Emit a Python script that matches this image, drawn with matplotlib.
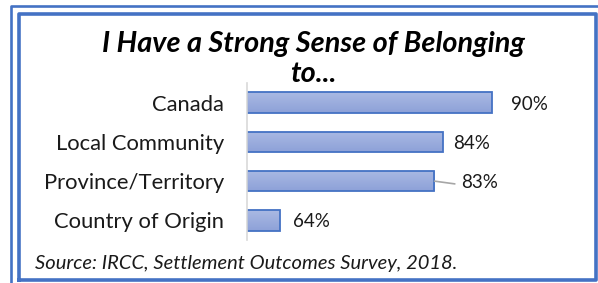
import numpy as np
import matplotlib.pyplot as plt
from matplotlib.lines import Line2D
from matplotlib.colors import LinearSegmentedColormap

# data
categories = ['Canada', 'Local Community', 'Province/Territory', 'Country of Origin']
values = [90, 84, 83, 64]
labels = ['90%', '84%', '83%', '64%']

W, H = 598, 283
fig = plt.figure(figsize=(W / 100, H / 100), dpi=100)
plt.rcParams['font.family'] = ['Lato', 'DejaVu Sans']


def px(x, y):
    # pixel coords (top-left origin) -> figure fraction
    return x / W, 1 - y / H


def fig_line(xs, ys, lw, color='#4472c4'):
    fx = [x / W for x in xs]
    fy = [1 - y / H for y in ys]
    fig.add_artist(Line2D(fx, fy, lw=lw, color=color, solid_capstyle='projecting'))


# double border
fig_line([10.5, 10.5, 605], [290, 6, 6], 1.9)
fig_line([19, 19, 595.5, 595.5, 19], [279.5, 13.5, 13.5, 279.5, 279.5], 2.6)

ax = fig.add_axes([247 / W, (H - 240) / H, 326 / W, 157 / H])
y = np.arange(len(categories))
bars = ax.barh(y, [v - 60 for v in values], left=60, height=0.52,
               color='#9cadde', edgecolor='#4472c4', linewidth=1.3)

# gradient fill on each bar
grad = np.linspace(0, 1, 50).reshape(-1, 1)
cmap = LinearSegmentedColormap.from_list('g', ['#aab9e3', '#8da1d8'])
for b in bars:
    x0, y0 = b.get_x(), b.get_y()
    im = ax.imshow(grad, cmap=cmap, aspect='auto',
                   extent=[x0, x0 + b.get_width(), y0 + b.get_height(), y0], zorder=1.5)
    im.set_clip_path(b)
    b.set_facecolor('none')
    b.set_zorder(2)

ax.set_xlim(60, 100)
ax.set_ylim(3.5, -0.5)
ax.set_yticks(y)
ax.set_yticklabels(categories, fontsize=15.8, color='#1a1a1a')
ax.tick_params(axis='y', length=0, pad=16.5)
ax.set_xticks([])
for s in ['top', 'right', 'bottom']:
    ax.spines[s].set_visible(False)
ax.spines['left'].set_color('#d9d9d9')
ax.spines['left'].set_linewidth(1.2)
ax.set_zorder(3)
ax.patch.set_alpha(0)

# value labels (offset in px)
offsets = [20, 11, 27, 13]
for yi, v, lab, off in zip(y, values, labels, offsets):
    ax.annotate(lab, (v, yi), xytext=(off * 0.72, -1), textcoords='offset points',
                va='center', ha='left', fontsize=13.5, color='#1a1a1a')
# leader line for 83%
ax.annotate('', (83, 2), xytext=(19 * 0.72 + 1, -2), textcoords='offset points',
            arrowprops=dict(arrowstyle='-', color='#a6a6a6', lw=1.2, shrinkA=0, shrinkB=0))

fig.text(*px(313, 44), 'I Have a Strong Sense of Belonging', ha='center', va='center',
         fontsize=20.8, fontweight='bold', fontstyle='italic')
fig.text(*px(313, 74), 'to...', ha='center', va='center',
         fontsize=20.8, fontweight='bold', fontstyle='italic')
fig.text(*px(35, 264), 'Source: IRCC, Settlement Outcomes Survey, 2018.', ha='left', va='center',
         fontsize=14.5, fontstyle='italic', color='#1a1a1a')

fig.savefig('out.png', dpi=100)
